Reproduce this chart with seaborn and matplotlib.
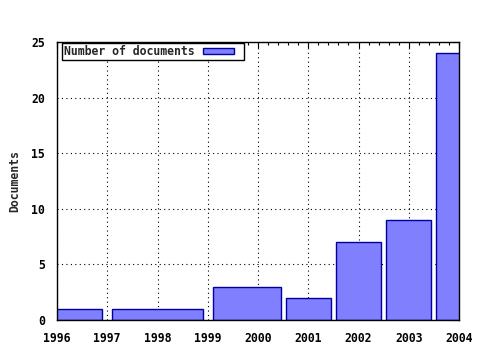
import numpy as np
import matplotlib
matplotlib.use("Agg")
import matplotlib.pyplot as plt
from matplotlib.ticker import MultipleLocator, FuncFormatter
from matplotlib.patches import Rectangle
from matplotlib.legend_handler import HandlerPatch
import seaborn as sns

years = [1996, 1998, 2000, 2001, 2002, 2003, 2004]
documents = [1, 1, 3, 2, 7, 9, 24]
series_label = "Number of documents"
y_label = "Documents"

sns.set_style("white")
plt.rcParams['font.family'] = ['DejaVu Sans Mono', 'DejaVu Sans']
plt.rcParams['font.weight'] = 'bold'
plt.rcParams['font.size'] = 8.3

fig = plt.figure(figsize=(4.8, 3.5), dpi=100)
ax = fig.add_axes([57/480, 1-320/350, (459-57)/480, (320-42)/350])

# gnuplot-style boxes: each box extends halfway to its neighbours, scaled by 0.9
x = np.array(years, dtype=float)
n = len(x)
lefts, widths = [], []
for i in range(n):
    lh = (x[i] - x[i-1]) / 2 if i > 0 else (x[i+1] - x[i]) / 2
    rh = (x[i+1] - x[i]) / 2 if i < n - 1 else (x[i] - x[i-1]) / 2
    lefts.append(x[i] - 0.9 * lh)
    widths.append(0.9 * (lh + rh))

bars = ax.bar(lefts, documents, width=widths, align='edge', color='#8080ff',
              edgecolor='#0000a0', linewidth=1.0, label=series_label, zorder=2)

ax.set_xlim(1996, 2004)
ax.set_ylim(0, 25)
ax.xaxis.set_major_locator(MultipleLocator(1))
ax.xaxis.set_minor_locator(MultipleLocator(0.2))
ax.yaxis.set_major_locator(MultipleLocator(5))
ax.xaxis.set_major_formatter(FuncFormatter(lambda v, p: f"{int(round(v))}"))

ax.tick_params(axis='both', which='major', direction='in', length=4, width=0.8,
               top=True, right=True, color='black', labelcolor='black')
ax.tick_params(axis='x', which='minor', direction='in', length=2, width=0.8,
               top=True, bottom=True, color='black')
ax.tick_params(axis='x', which='major', pad=8.5)
ax.tick_params(axis='y', which='major', pad=8.5)

ax.grid(True, which='major', color='black', linestyle=(0, (1, 3)), linewidth=0.8)
ax.set_axisbelow(True)
for s in ax.spines.values():
    s.set_color('black')
    s.set_linewidth(1.0)
    s.set_zorder(3)

ax.set_ylabel(y_label, fontweight='bold', labelpad=7)


def short_patch(legend, orig_handle, xdescent, ydescent, width, height, fontsize):
    return Rectangle((-xdescent, -ydescent), width * 0.79, height)


first_bar = bars.patches[0]
leg = ax.legend(handles=[first_bar], labels=[series_label], loc='upper left',
                bbox_to_anchor=(0.012, 0.995), markerfirst=False,
                frameon=True, fancybox=False, framealpha=1, edgecolor='black',
                handlelength=3.4, handleheight=0.5, borderpad=0.15, handletextpad=0.75,
                borderaxespad=0.0,
                handler_map={Rectangle: HandlerPatch(patch_func=short_patch)})
leg.get_frame().set_linewidth(1.0)

fig.savefig("out.png", dpi=100)
